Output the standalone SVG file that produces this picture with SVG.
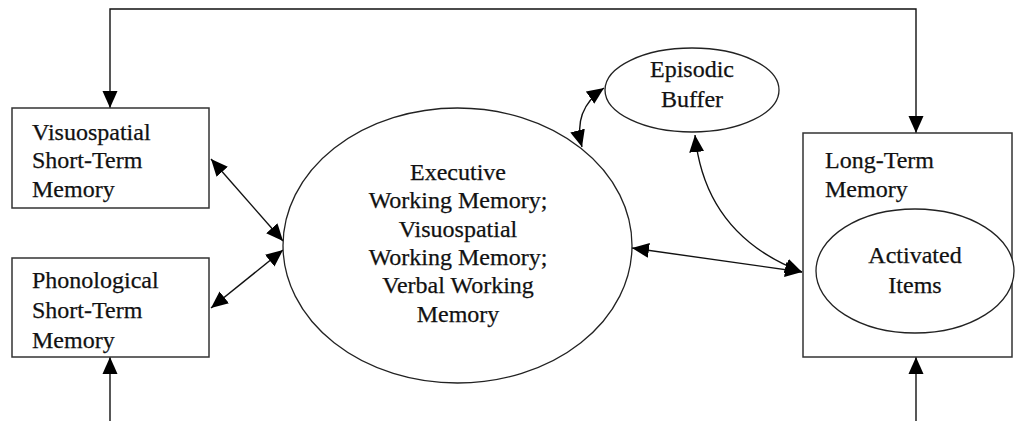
<svg xmlns="http://www.w3.org/2000/svg" width="1017" height="421" viewBox="0 0 1017 421">
<style>
.box{fill:#fff;stroke:#333;stroke-width:1.5}
.ell{fill:#fff;stroke:#222;stroke-width:1.3}
.ln{fill:none;stroke:#111;stroke-width:1.4}
text{font-family:"Liberation Serif","Times New Roman",serif;font-size:24px;fill:#111;stroke:#111;stroke-width:0.25}
.c{text-anchor:middle}
</style>
<defs>
<marker id="ah" markerUnits="userSpaceOnUse" markerWidth="18" markerHeight="16" refX="17" refY="7.5" orient="auto-start-reverse" viewBox="0 0 18 15">
<path d="M0,0 L17,7.5 L0,15 z" fill="#000"/>
</marker>
</defs>
<g id="connectors">
<path class="ln" d="M110,108 L110,9 L916,9 L916,133" marker-start="url(#ah)" marker-end="url(#ah)"/>
<path class="ln" d="M110,421 L110,357" marker-end="url(#ah)"/>
<path class="ln" d="M916,421 L916,357" marker-end="url(#ah)"/>
<path class="ln" d="M211,159 L283,241" marker-start="url(#ah)" marker-end="url(#ah)"/>
<path class="ln" d="M211,308 L283,250" marker-start="url(#ah)" marker-end="url(#ah)"/>
<path class="ln" d="M604,88 Q572,110 582,147" marker-start="url(#ah)" marker-end="url(#ah)"/>
<path class="ln" d="M695,135 Q705,235 802,272" marker-start="url(#ah)" marker-end="url(#ah)"/>
<path class="ln" d="M632,248 L802,272" marker-start="url(#ah)" marker-end="url(#ah)"/>
</g>
<g id="visuospatial-stm">
<rect class="box" x="12" y="108" width="197" height="100"/>
<text x="32" y="140">Visuospatial</text>
<text x="32" y="168">Short-Term</text>
<text x="32" y="197">Memory</text>
</g>
<g id="phonological-stm">
<rect class="box" x="12" y="258" width="197" height="99"/>
<text x="32" y="288">Phonological</text>
<text x="32" y="318">Short-Term</text>
<text x="32" y="348">Memory</text>
</g>
<g id="working-memory">
<ellipse class="ell" cx="457.5" cy="245.5" rx="174.5" ry="137.5"/>
<text class="c" x="458" y="180">Executive</text>
<text class="c" x="458" y="208">Working Memory;</text>
<text class="c" x="458" y="237">Visuospatial</text>
<text class="c" x="458" y="265">Working Memory;</text>
<text class="c" x="458" y="293">Verbal Working</text>
<text class="c" x="458" y="322">Memory</text>
</g>
<g id="episodic-buffer">
<ellipse class="ell" cx="692" cy="90" rx="87" ry="42"/>
<text class="c" x="692" y="77">Episodic</text>
<text class="c" x="692" y="107">Buffer</text>
</g>
<g id="long-term-memory">
<rect class="box" x="803" y="133" width="209" height="224"/>
<text x="825" y="168">Long-Term</text>
<text x="825" y="197">Memory</text>
</g>
<g id="activated-items">
<ellipse class="ell" cx="915" cy="271" rx="99" ry="62"/>
<text class="c" x="915" y="263">Activated</text>
<text class="c" x="915" y="293">Items</text>
</g>
</svg>
